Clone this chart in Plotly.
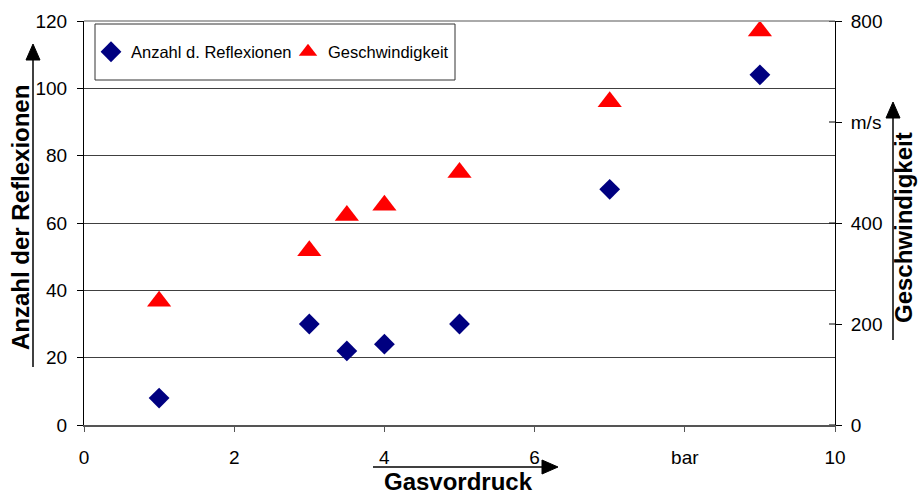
import plotly.graph_objects as go

# Gasvordruck in bar
druck = [1, 3, 3.5, 4, 5, 7, 9]
reflexionen = [8, 30, 22, 24, 30, 70, 104]
geschwindigkeit = [245, 345, 415, 435, 500, 640, 780]

x_ticks = [0, 2, 4, 6, 8, 10]
x_labels = ["0", "2", "4", "6", "bar", "10"]
y2_ticks = [0, 200, 400, 600, 800]
y2_labels = ["0", "200", "400", "m/s", "800"]

FONT = "Arial, Liberation Sans, sans-serif"
W, H = 918, 495
L, R, T, B = 84, 83, 21, 70


# pixel -> paper coords for the decorations around the plot
def px(x):
    return (x - L) / (W - L - R)


def py(y):
    return (H - B - y) / (H - T - B)


fig = go.Figure()
fig.add_trace(go.Scatter(x=druck, y=reflexionen, mode="markers", name="Anzahl d. Reflexionen",
                         marker=dict(symbol="diamond", size=16, color="#000080")))
fig.add_trace(go.Scatter(x=druck, y=geschwindigkeit, mode="markers", name="Geschwindigkeit", yaxis="y2",
                         marker=dict(symbol="triangle-up", size=21, color="#FF0000")))

shapes = []
# top border line (light grey)
shapes.append(dict(type="line", xref="paper", yref="paper", x0=0, x1=1, y0=1, y1=1,
                   line=dict(color="#aaaaaa", width=2)))
# right axis: inward part of crossing ticks
for v in y2_ticks:
    shapes.append(dict(type="line", xref="paper", yref="y2", x0=1 - 6 / (W - L - R), x1=1, y0=v, y1=v,
                       line=dict(color="black", width=1)))
# legend box
shapes.append(dict(type="rect", xref="paper", yref="paper", x0=px(95), x1=px(455), y0=py(80), y1=py(24),
                   line=dict(color="#333333", width=1), fillcolor="white", layer="below"))
# arrows next to the axis titles
arrows = [((33, 367), (33, 60), "up"), ((893, 340), (893, 118), "up"), ((373, 467), (542, 467), "right")]
for (xa, ya), (xb, yb), d in arrows:
    shapes.append(dict(type="line", xref="paper", yref="paper", x0=px(xa), y0=py(ya), x1=px(xb), y1=py(yb),
                       line=dict(color="black", width=1.5)))
    if d == "up":
        path = "M {} {} L {} {} L {} {} Z".format(px(xb - 7), py(yb), px(xb + 7), py(yb), px(xb), py(yb - 16))
    else:
        path = "M {} {} L {} {} L {} {} Z".format(px(xb), py(yb - 7), px(xb), py(yb + 7), px(xb + 16), py(yb))
    shapes.append(dict(type="path", xref="paper", yref="paper", path=path,
                       fillcolor="black", line=dict(color="black", width=1)))

annotations = [
    dict(text="<b>Anzahl der Reflexionen</b>", x=px(20), y=py(218), textangle=-90),
    dict(text="<b>Geschwindigkeit</b>", x=px(903), y=py(228), textangle=-90),
    dict(text="<b>Gasvordruck</b>", x=px(458), y=py(482)),
]
for a in annotations:
    a.update(xref="paper", yref="paper", showarrow=False, xanchor="center", yanchor="middle",
             font=dict(family=FONT, size=24, color="black"))

fig.update_layout(
    template="none",
    width=W, height=H,
    margin=dict(l=L, r=R, t=T, b=B, pad=0),
    paper_bgcolor="white", plot_bgcolor="white",
    font=dict(family=FONT, size=19, color="black"),
    showlegend=True,
    legend=dict(orientation="h", x=px(91), y=py(52), xanchor="left", yanchor="middle",
                bgcolor="rgba(0,0,0,0)", borderwidth=0, font=dict(size=16.5), entrywidth=152),
    xaxis=dict(range=[0, 10], tickvals=x_ticks, ticktext=x_labels, showgrid=False, zeroline=False,
               showline=True, linecolor="#555555", linewidth=2, ticks="outside", ticklen=5,
               tickcolor="#555555", ticklabelstandoff=9, automargin=False),
    yaxis=dict(range=[0, 120], dtick=20, showgrid=True, gridcolor="#404040", gridwidth=1, zeroline=False,
               showline=True, linecolor="black", linewidth=1, ticks="outside", ticklen=6,
               tickcolor="black", ticklabelstandoff=6, automargin=False),
    yaxis2=dict(range=[0, 800], overlaying="y", side="right", tickvals=y2_ticks, ticktext=y2_labels,
                showgrid=False, zeroline=False, showline=True, linecolor="black", linewidth=1,
                ticks="outside", ticklen=6, tickcolor="black", ticklabelstandoff=5, automargin=False),
    shapes=shapes,
    annotations=annotations,
)

# the page body has an 8px default margin; drop it so the figure fills the window
fig.write_html("out.html", config={"displayModeBar": False},
               post_script="document.body.style.margin='0';")
